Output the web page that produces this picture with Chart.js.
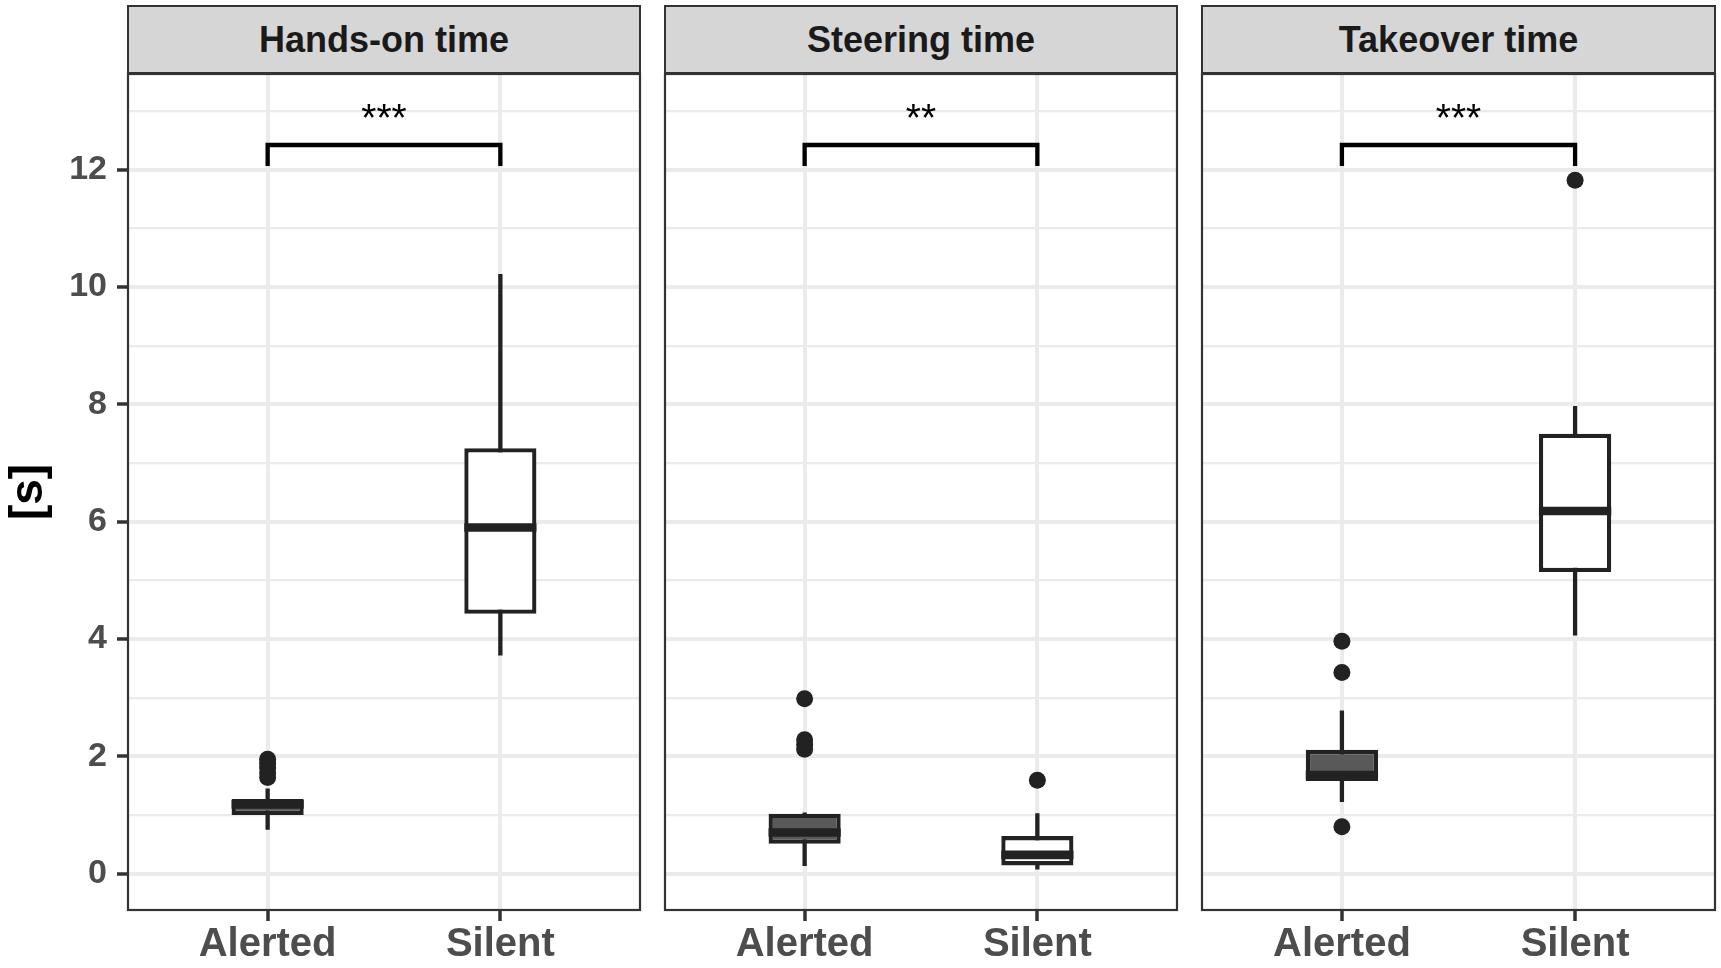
<!DOCTYPE html>
<html>
<head>
<meta charset="utf-8">
<script src="https://cdn.jsdelivr.net/npm/chart.js@4.4.0/dist/chart.umd.min.js"></script>
<style>
    html, body { margin: 0; padding: 0; background: #fff; }
    #wrap  { position: relative; width: 1721px; height: 968px; overflow: hidden; }
    canvas { position: absolute; top: 72px; }
    .strip {
        position: absolute; top: 5px; height: 69px; box-sizing: border-box;
        background: #d6d6d6; border: 2px solid #333;
        font: bold 36px 'Liberation Sans', Arial, sans-serif; color: #1a1a1a;
        display: flex; align-items: center; justify-content: center;
    }
</style>
</head>
<body>
<div id="wrap">
    <div class="strip" style="left:127px;width:514px">Hands-on time</div>
    <div class="strip" style="left:664px;width:514px">Steering time</div>
    <div class="strip" style="left:1201px;width:515px">Takeover time</div>
    <canvas id="p0" width="642" height="896" style="left:0px"></canvas>
    <canvas id="p1" width="516" height="896" style="left:663px"></canvas>
    <canvas id="p2" width="517" height="896" style="left:1200px"></canvas>
</div>
<script>
/* ── Data ─────────────────────────────────────────────────── */
const panelTitles = ['Hands-on time', 'Steering time', 'Takeover time'];
const groups      = ['Alerted', 'Silent'];
const yTicks      = [0, 1, 2, 3, 4, 5, 6, 7, 8, 9, 10, 11, 12, 13];

const whiskerLow  = [[0.75, 3.72], [0.13, 0.07], [1.22, 4.06]];
const boxLow      = [[1.00, 4.43], [0.51, 0.14], [1.58, 5.14]];
const medians     = [[1.18, 5.90], [0.70, 0.32], [1.68, 6.18]];
const boxHigh     = [[1.27, 7.25], [1.02, 0.64], [2.11, 7.50]];
const whiskerHigh = [[1.45, 10.22], [1.04, 1.03], [2.78, 7.97]];
const outliers    = [
    [[1.64, 1.72, 1.80, 1.88, 1.95], []],
    [[2.98, 2.28, 2.20, 2.12], [1.59]],
    [[3.96, 3.43, 0.80], [11.82]],
];
const sigLabels   = ['***', '**', '***'];
const bracketTop  = 12.42;
const bracketTip  = 12.06;
const sigLabelY   = 12.85;

/* ── Styling ──────────────────────────────────────────────── */
const FONT      = "'Liberation Sans', Arial, sans-serif";
const INK       = '#222';
const BOX_FILL  = ['#595959', '#ffffff'];
const BOX_WIDTH = 0.31;
const GRID      = '#ebebeb';
const LINE      = 4.3;

const panelPlugin = {
    id : 'panel',
    afterDraw(chart) {
        const { ctx, chartArea : a, scales : { x, y } } = chart;
        const i = chart.options.panelIndex;
        ctx.save();
        ctx.fillStyle    = '#000';
        ctx.font         = '39px ' + FONT;
        ctx.textAlign    = 'center';
        ctx.textBaseline = 'middle';
        ctx.fillText(sigLabels[i], x.getPixelForValue(1.5), y.getPixelForValue(sigLabelY));
        ctx.strokeStyle = '#333';
        ctx.lineWidth   = 2.2;
        ctx.strokeRect(a.left, a.top, a.right - a.left, a.bottom - a.top);
        ctx.restore();
    },
};

// keep the plot area where the figure has it, whatever the labels need
function noPad(s) {
    s.paddingTop = s.paddingBottom = s.paddingLeft = s.paddingRight = 0;
}

function makePanel(i) {
    const pos  = [1, 2];
    const half = BOX_WIDTH / 2;
    const first = i === 0;

    const whiskers = [], meds = [], pts = [];
    pos.forEach((p, g) => {
        whiskers.push({ x: p, y: whiskerLow[i][g] }, { x: p, y: whiskerHigh[i][g] }, { x: p, y: null });
        meds.push({ x: p - half, y: medians[i][g] }, { x: p + half, y: medians[i][g] }, { x: p, y: null });
        outliers[i][g].forEach(v => pts.push({ x: p, y: v }));
    });

    new Chart(document.getElementById('p' + i), {
        type : 'bar',
        data : {
            datasets : [
                {
                    type        : 'line',
                    data        : whiskers,
                    borderColor : INK,
                    borderWidth : LINE,
                    borderCapStyle : 'butt',
                    pointRadius : 0,
                    spanGaps    : false,
                    order       : 5,
                },
                {
                    data            : pos.map((p, g) => ({ x: p, y: [boxLow[i][g], boxHigh[i][g]] })),
                    backgroundColor : BOX_FILL,
                    borderColor     : INK,
                    borderWidth     : LINE,
                    borderSkipped   : false,
                    barPercentage   : BOX_WIDTH,
                    categoryPercentage : 1,
                    order           : 4,
                },
                {
                    type           : 'line',
                    data           : meds,
                    borderColor    : INK,
                    borderWidth    : 2 * LINE,
                    borderCapStyle : 'butt',
                    pointRadius    : 0,
                    spanGaps       : false,
                    order          : 3,
                },
                {
                    type                 : 'scatter',
                    data                 : pts,
                    pointRadius          : 8.5,
                    pointBackgroundColor : INK,
                    pointBorderWidth     : 0,
                    order                : 2,
                },
                {
                    type        : 'line',
                    data        : [
                        { x: 1, y: bracketTip }, { x: 1, y: bracketTop },
                        { x: 2, y: bracketTop }, { x: 2, y: bracketTip },
                    ],
                    borderColor : '#000',
                    borderWidth : LINE,
                    borderCapStyle : 'butt',
                    pointRadius : 0,
                    tension     : 0,
                    order       : 1,
                },
            ],
        },
        options : {
            panelIndex : i,
            responsive : false,
            animation  : false,
            devicePixelRatio : 1,
            layout : {
                autoPadding : false,
                padding     : { top: 2, right: 2, left: first ? 0 : 2, bottom: 0 },
            },
            plugins : {
                legend  : { display: false },
                tooltip : { enabled: false },
            },
            scales : {
                x : {
                    type   : 'linear',
                    min    : 0.4,
                    max    : 2.6,
                    offset : false,
                    border : { display: false },
                    afterBuildTicks : s => { s.ticks = pos.map(v => ({ value: v })); },
                    afterFit        : s => { s.height = 58; noPad(s); },
                    grid  : {
                        offset     : false,
                        color      : GRID,
                        lineWidth  : 4,
                        tickColor  : '#333',
                        tickWidth  : 3.5,
                        tickLength : 11,
                    },
                    ticks : {
                        autoSkip : false,
                        maxRotation : 0,
                        padding  : 0,
                        color    : '#4d4d4d',
                        font     : { family: FONT, size: 40, weight: 'bold' },
                        callback : v => groups[v - 1],
                    },
                },
                y : {
                    min    : -0.62,
                    max    : 13.63,
                    border : { display: false },
                    afterBuildTicks : s => { s.ticks = yTicks.map(v => ({ value: v })); },
                    afterFit        : s => { s.width = first ? 128 : 0; noPad(s); },
                    title : {
                        display : first,
                        text    : '[s]',
                        color   : '#000',
                        padding : { top: 2, bottom: 0 },
                        font    : { family: FONT, size: 46, weight: 'bold' },
                    },
                    grid  : {
                        color      : GRID,
                        lineWidth  : c => (c.tick && c.tick.value % 2 === 0 ? 4 : 2.2),
                        drawTicks  : first,
                        tickColor  : c => (c.tick && c.tick.value % 2 === 0 ? '#333' : 'rgba(0,0,0,0)'),
                        tickWidth  : 3.5,
                        tickLength : 11,
                    },
                    ticks : {
                        display  : first,
                        autoSkip : false,
                        padding  : 10,
                        color    : '#4d4d4d',
                        font     : { family: FONT, size: 34, weight: 'bold' },
                        callback : v => (v % 2 === 0 ? String(v) : ''),
                    },
                },
            },
        },
        plugins : [panelPlugin],
    });
}

panelTitles.forEach((t, i) => makePanel(i));
</script>
</body>
</html>
